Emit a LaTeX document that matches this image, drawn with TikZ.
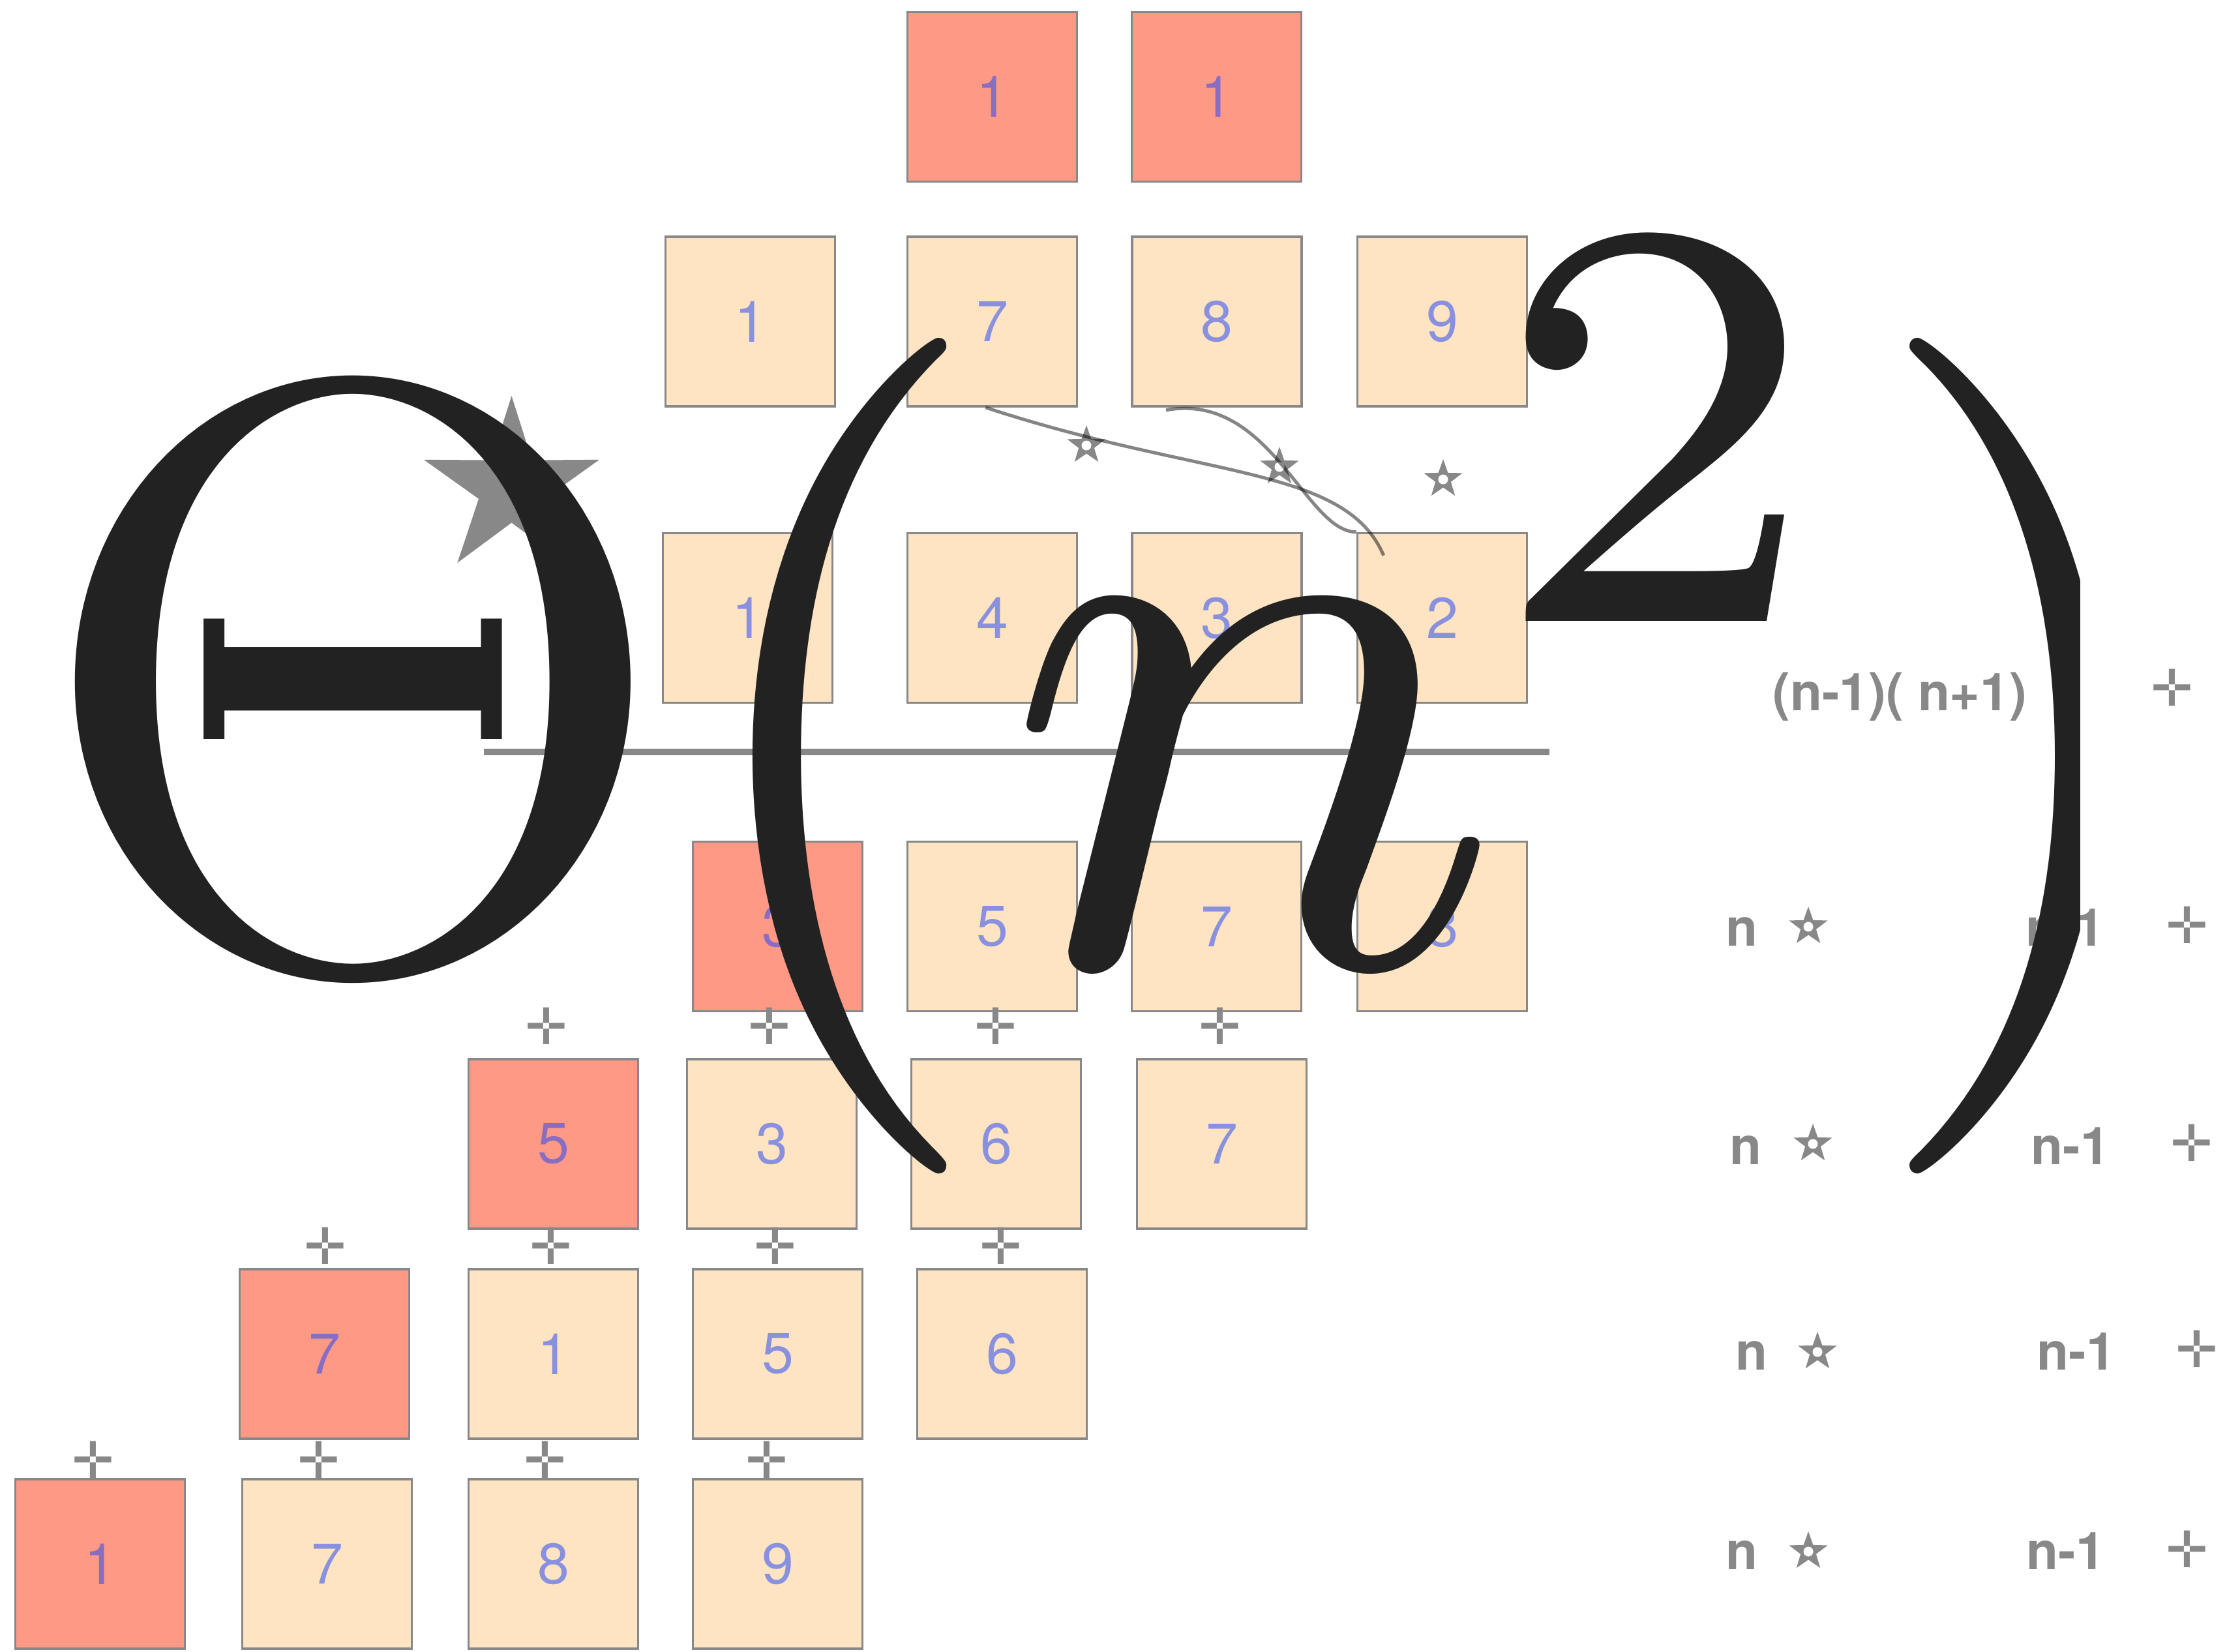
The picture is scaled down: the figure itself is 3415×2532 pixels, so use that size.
\documentclass[tikz,border=0pt]{standalone}
\usepackage[no-math]{fontspec}
\newfontfamily\hsans{TeX Gyre Heros}
\newfontfamily\djv{DejaVu Sans}
\usetikzlibrary{calc}
\definecolor{peach}{RGB}{254,228,194}
\definecolor{salmon}{RGB}{254,153,134}
\definecolor{digitc}{RGB}{30,70,250}
\definecolor{inkc}{RGB}{34,34,34}
\definecolor{mgray}{RGB}{136,136,136}
\tikzset{
  cell/.style={draw=mgray, line width=0.035cm, minimum width=2.6cm, minimum height=2.6cm,
    inner sep=0pt, fill=peach, text=digitc, text opacity=0.52,
    font=\hsans\fontsize{25}{28}\selectfont},
  hot/.style={cell, fill=salmon},
  crossmark/.style={inner sep=0pt, text=mgray, font=\djv\fontsize{22}{22}\selectfont},
  lbl/.style={inner sep=0pt, anchor=base west, text=mgray, font=\hsans\bfseries\fontsize{22.76}{26}\selectfont},
  big/.style={inner sep=0pt, anchor=base west, text=inkc},
  curve/.style={draw=black, draw opacity=0.48, line width=0.05cm},
  holestar/.pic={
    \fill[mgray] (-90:31) -- (-54:12.5) -- (-18:31) -- (18:12.5) -- (54:31) -- (90:12.5)
      -- (126:31) -- (162:12.5) -- (198:31) -- (234:12.5) -- cycle;
    \fill[white] (0,0) circle[radius=0.075cm];
  },
}
\newcommand{\bigscale}{36.44}
\begin{document}
\begin{tikzpicture}[x=0.01cm, y=-0.01cm]
\useasboundingbox (0,0) rectangle (3415,2532);
\fill[white] (0,0) rectangle (3415,2532);

% row A
\node[hot] (a1) at (1521.5,148.5) {1};
\node[hot] (a2) at (1865.5,148.5) {1};
% row B
\node[cell] (b1) at (1150.5,493) {1};
\node[cell] (b2) at (1521.5,493) {7};
\node[cell] (b3) at (1866,493) {8};
\node[cell] (b4) at (2211.5,493) {9};
% row C
\node[cell] (c1) at (1146.5,947.5) {1};
\node[cell] (c2) at (1521.5,947.5) {4};
\node[cell] (c3) at (1866,947.5) {3};
\node[cell] (c4) at (2211.5,947.5) {2};
% row D
\node[hot] (d1) at (1192.5,1420.5) {3};
\node[cell] (d2) at (1521.5,1420.5) {5};
\node[cell] (d3) at (1865.5,1420.5) {7};
\node[cell] (d4) at (2211.5,1420.5) {8};
% row E
\node[hot] (e1) at (848.5,1754) {5};
\node[cell] (e2) at (1183.5,1754) {3};
\node[cell] (e3) at (1527.5,1754) {6};
\node[cell] (e4) at (1873.5,1754) {7};
% row F
\node[hot] (f1) at (497.5,2076) {7};
\node[cell] (f2) at (848.5,2076) {1};
\node[cell] (f3) at (1192.5,2076) {5};
\node[cell] (f4) at (1536.5,2076) {6};
% row G
\node[hot] (g1) at (153.5,2398) {1};
\node[cell] (g2) at (501.5,2398) {7};
\node[cell] (g3) at (848.5,2398) {8};
\node[cell] (g4) at (1192.5,2398) {9};

% crosses
\node[crossmark] (pe1) at (838,1573) {✛};
\node[crossmark] (pe2) at (1180,1573) {✛};
\node[crossmark] (pe3) at (1527,1573) {✛};
\node[crossmark] (pe4) at (1871,1573) {✛};
\node[crossmark] (pf1) at (499,1910) {✛};
\node[crossmark] (pf2) at (845,1910) {✛};
\node[crossmark] (pf3) at (1189,1910) {✛};
\node[crossmark] (pf4) at (1535,1910) {✛};
\node[crossmark] (pg1) at (143,2238) {✛};
\node[crossmark] (pg2) at (489,2238) {✛};
\node[crossmark] (pg3) at (836,2238) {✛};
\node[crossmark] (pg4) at (1176,2238) {✛};

% big star
\fill[mgray] (784.5,607) -- (753.3,705.6) -- (649.9,704.8) -- (734.1,764.9) -- (701.3,863)
  -- (784.5,801.5) -- (867.7,863) -- (834.9,764.9) -- (919.1,704.8) -- (815.7,705.6) -- cycle;

% horizontal rule
\coordinate (ruleL) at (742,1153);
\coordinate (ruleR) at (2376,1153);
\draw[mgray, line width=0.1cm] (ruleL) -- (ruleR);

% small stars
\pic at (1666,683) {holestar};
\pic at (1962,716) {holestar};
\pic at (2213,735) {holestar};

% curves
\draw[curve] ($(b2.south)+(-10,0)$) .. controls (1843,734) and (2063,714) .. ($(c4.north west)+(42,36)$);
\draw[curve] ($(b3.south)+(-78,4)$) .. controls (1948,600) and (2002,816) .. (c4.north west);

% right column labels
\node[lbl] (top) at (2718,1089) {(n-1)( n+1)};
\node[crossmark] (tp) at (3331,1054) {✛};

\node[lbl] (n1) at (2646,1450) {n};
\pic at (2773,1421) {holestar};
\node[lbl] (m1) at (3106,1450) {n-1};
\node[crossmark] (p1) at (3354,1418) {✛};

\node[lbl] (n2) at (2652,1785) {n};
\pic at (2780,1754) {holestar};
\node[lbl] (m2) at (3114,1785) {n-1};
\node[crossmark] (p2) at (3361,1752) {✛};

\node[lbl] (n3) at (2661,2100) {n};
\pic at (2787,2073) {holestar};
\node[lbl] (m3) at (3123,2100) {n-1};
\node[crossmark] (p3) at (3369,2068) {✛};

\node[lbl] (n4) at (2646,2406) {n};
\pic at (2773,2379) {holestar};
\node[lbl] (m4) at (3107,2406) {n-1};
\node[crossmark] (p4) at (3354,2375) {✛};

% big formula
\node[big] (theta) at (43,1479) {\scalebox{\bigscale}{$\Theta$}};
\node[big] (lp) at (1027,1479) {\scalebox{\bigscale}{$($}};
\node[big] (nn) at (1537,1479) {\scalebox{\bigscale}{$n$}};
\node[big] (two) at (2283,952) {\scalebox{\bigscale}{$\scriptstyle 2$}};
\begin{scope}
  \clip (0,0) -- (3415,0) -- (3415,830) -- (3189,830) -- (3189,1427) -- (3415,1427) -- (3415,2532) -- (0,2532) -- cycle;
  \node[big] (rp) at (2855,1479) {\scalebox{\bigscale}{$)$}};
\end{scope}
\end{tikzpicture}
\end{document}
